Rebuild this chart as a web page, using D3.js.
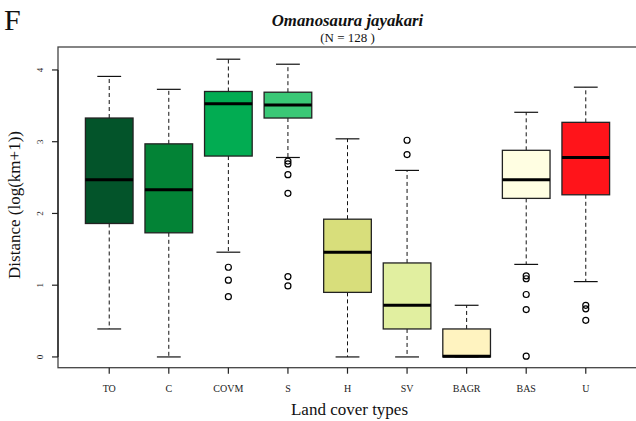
<!DOCTYPE html>
<html><head><meta charset="utf-8">
<script src="https://cdn.jsdelivr.net/npm/d3@7"></script>
<style>html,body{margin:0;padding:0;background:#fff;}svg{display:block;}</style>
</head><body>
<svg id="c" width="636" height="421"></svg>
<script>
const categories = ["TO","C","COVM","S","H","SV","BAGR","BAS","U"];
const whiskerLow  = [0.39, 0.00, 1.46, 2.78, 0.00, 0.00, 0.00, 1.29, 1.05];
const q1          = [1.86, 1.73, 2.80, 3.33, 0.90, 0.39, 0.00, 2.21, 2.26];
const medians     = [2.47, 2.33, 3.53, 3.51, 1.46, 0.72, 0.01, 2.47, 2.78];
const q3          = [3.33, 2.97, 3.70, 3.69, 1.92, 1.31, 0.39, 2.88, 3.27];
const whiskerHigh = [3.91, 3.73, 4.15, 4.08, 3.04, 2.60, 0.72, 3.41, 3.76];
const outliers = [
  [],
  [],
  [1.25, 1.07, 0.84],
  [2.73, 2.69, 2.54, 2.28, 1.12, 0.99],
  [],
  [3.02, 2.82],
  [],
  [1.13, 1.09, 0.87, 0.66, 0.01],
  [0.72, 0.67, 0.51]
];
const fills = ["#03542A","#038336","#02AC52","#3AC876","#D8DE7B","#E1EFA0","#FFF3C0","#FFFEE2","#FF141A"];
const yTicks = [0,1,2,3,4];

const svg = d3.select("#c");
const serif = "'Liberation Serif','Times New Roman',serif";
const x = d3.scaleLinear().domain([0.14, 9.86]).range([58, 637]);
const y = d3.scaleLinear().domain([-0.15, 4.32]).range([367.7, 47]);
const bw = 0.8, cw = 0.4;

// frame
svg.append("rect").attr("x", x(0.14)).attr("y", y(4.32))
  .attr("width", x(9.86)-x(0.14)+2).attr("height", y(-0.15)-y(4.32))
  .attr("fill","none").attr("stroke","#444").attr("stroke-width",1.3);

const g = svg.selectAll("g.box").data(categories).enter().append("g");
g.each(function(c, i){
  const s = d3.select(this);
  const cx = x(i+1);
  const half = (x(1+bw/2)-x(1-bw/2))/2;
  const ch = (x(1+cw/2)-x(1-cw/2))/2;
  // whiskers
  s.append("line").attr("x1",cx).attr("x2",cx).attr("y1",y(q3[i])).attr("y2",y(whiskerHigh[i]))
    .attr("stroke","#111").attr("stroke-width",1).attr("stroke-dasharray","4,3");
  s.append("line").attr("x1",cx).attr("x2",cx).attr("y1",y(q1[i])).attr("y2",y(whiskerLow[i]))
    .attr("stroke","#111").attr("stroke-width",1).attr("stroke-dasharray","4,3");
  s.append("line").attr("x1",cx-ch).attr("x2",cx+ch).attr("y1",y(whiskerHigh[i])).attr("y2",y(whiskerHigh[i]))
    .attr("stroke","#111").attr("stroke-width",1.2);
  s.append("line").attr("x1",cx-ch).attr("x2",cx+ch).attr("y1",y(whiskerLow[i])).attr("y2",y(whiskerLow[i]))
    .attr("stroke","#111").attr("stroke-width",1.2);
  // box
  s.append("rect").attr("x",cx-half).attr("y",y(q3[i])).attr("width",2*half)
    .attr("height",Math.max(0.5, y(q1[i])-y(q3[i])))
    .attr("fill",fills[i]).attr("stroke","#222").attr("stroke-width",1.3);
  // median
  s.append("line").attr("x1",cx-half).attr("x2",cx+half).attr("y1",y(medians[i])).attr("y2",y(medians[i]))
    .attr("stroke","#000").attr("stroke-width",3);
  // outliers
  s.selectAll("circle").data(outliers[i]).enter().append("circle")
    .attr("cx",cx).attr("cy",d=>y(d)).attr("r",3)
    .attr("fill","none").attr("stroke","#000").attr("stroke-width",1.2);
});

// y axis
const ya = svg.append("g");
ya.append("line").attr("x1",58).attr("x2",58).attr("y1",y(0)).attr("y2",y(4)).attr("stroke","#222").attr("stroke-width",1.3);
yTicks.forEach(t=>{
  ya.append("line").attr("x1",52).attr("x2",58).attr("y1",y(t)).attr("y2",y(t)).attr("stroke","#222").attr("stroke-width",1.2);
  ya.append("text").attr("transform",`translate(43,${y(t)}) rotate(-90)`)
    .attr("text-anchor","middle").attr("font-family",serif).attr("font-size",9).attr("fill","#222").text(t);
});
// x axis ticks
categories.forEach((c,i)=>{
  svg.append("line").attr("x1",x(i+1)).attr("x2",x(i+1)).attr("y1",y(-0.15)).attr("y2",y(-0.15)+6)
    .attr("stroke","#222").attr("stroke-width",1.2);
  svg.append("text").attr("x",x(i+1)).attr("y",392).attr("text-anchor","middle")
    .attr("font-family",serif).attr("font-size",10).attr("fill","#222").text(c);
});

// titles
svg.append("text").attr("x",4).attr("y",30).attr("font-family",serif).attr("font-size",30).attr("fill","#111").text("F");
svg.append("text").attr("x",347.5).attr("y",26).attr("text-anchor","middle").attr("font-family",serif)
  .attr("font-size",16.8).attr("font-weight","bold").attr("font-style","italic").attr("fill","#111").text("Omanosaura jayakari");
svg.append("text").attr("x",347.5).attr("y",42).attr("text-anchor","middle").attr("font-family",serif)
  .attr("font-size",13).attr("fill","#111").text("(N = 128 )");
svg.append("text").attr("x",349.5).attr("y",415).attr("text-anchor","middle").attr("font-family",serif)
  .attr("font-size",17).attr("fill","#111").text("Land cover types");
svg.append("text").attr("transform",`translate(20,205) rotate(-90)`).attr("text-anchor","middle").attr("font-family",serif)
  .attr("font-size",17).attr("fill","#111").text("Distance (log(km+1))");
</script>
</body></html>
